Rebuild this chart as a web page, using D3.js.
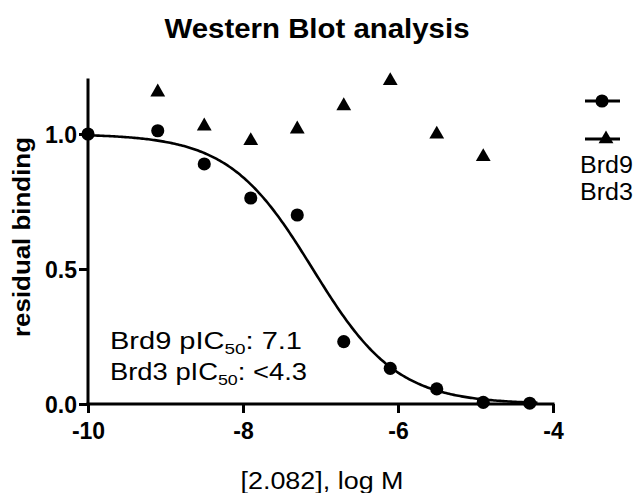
<!DOCTYPE html>
<html>
<head>
<meta charset="utf-8">
<script src="https://cdn.jsdelivr.net/npm/d3@7"></script>
<style>
  html, body { margin: 0; padding: 0; background: #fff; }
  svg { display: block; font-family: "Liberation Sans", Arial, sans-serif; }
</style>
</head>
<body>
<svg id="chart" width="640" height="493"></svg>
<script>
// Concentrations (log M) and residual binding from the blot quantification
const brd9LogConc = [-10, -9.1, -8.5, -7.9, -7.3, -6.7, -6.1, -5.5, -4.9, -4.3];
const brd9Binding = [1.0, 1.012, 0.889, 0.763, 0.70, 0.231, 0.132, 0.056, 0.006, 0.003];
const brd3LogConc = [-9.1, -8.5, -7.9, -7.3, -6.7, -6.1, -5.5, -4.9];
const brd3Binding = [1.155, 1.029, 0.975, 1.018, 1.104, 1.197, 0.999, 0.916];

// Fitted dose-response for Brd9 (pIC50 7.1)
const brd9PIC50 = 7.1;
const fitTop = 1.0, fitBottom = 0.0, fitHill = 0.8;
const fitRange = [-10, -4.2];

const xTicks = [-10, -8, -6, -4];
const yTicks = [0.0, 0.5, 1.0];
const seriesNames = ["Brd9", "Brd3"];

const svg = d3.select("#chart");
const x = d3.scaleLinear().domain([-10, -4]).range([88, 553]);
const y = d3.scaleLinear().domain([0, 1.2]).range([404, 80]);

const axisStroke = 3;

// Title
svg.append("text")
  .attr("x", 317).attr("y", 38)
  .attr("text-anchor", "middle")
  .attr("font-size", 28).attr("font-weight", "bold")
  .attr("textLength", 305).attr("lengthAdjust", "spacingAndGlyphs")
  .text("Western Blot analysis");

// Axes (plain hyphen for negative tick labels)
const xAxis = svg.append("g")
  .attr("transform", `translate(0,${y(0)})`)
  .call(d3.axisBottom(x).tickValues(xTicks).tickSize(9).tickPadding(5)
    .tickFormat(d => String(d)));
const yAxis = svg.append("g")
  .attr("transform", `translate(${x(-10)},0)`)
  .call(d3.axisLeft(y).tickValues(yTicks).tickSize(9).tickPadding(2)
    .tickFormat(d => d.toFixed(1)));

[xAxis, yAxis].forEach(g => {
  g.select(".domain").attr("stroke", "#000").attr("stroke-width", axisStroke)
    .attr("stroke-linecap", "square");
  g.selectAll(".tick line").attr("stroke", "#000").attr("stroke-width", axisStroke);
  g.selectAll(".tick text")
    .attr("fill", "#000")
    .attr("font-size", 23).attr("font-weight", "bold")
    .attr("font-family", "'Liberation Sans', Arial, sans-serif");
});
// flat domain ends (no outer tick stubs)
xAxis.select(".domain").attr("d", `M${x(-10)},0H${x(-4)}`);
yAxis.select(".domain").attr("d", `M0,${y(1.2)}V${y(0)}`);
xAxis.selectAll(".tick text").attr("dy", "0.9em");
yAxis.selectAll(".tick text").attr("dy", "0.36em");

// Axis titles
svg.append("text")
  .attr("transform", `translate(30,237) rotate(-90)`)
  .attr("text-anchor", "middle")
  .attr("font-size", 23).attr("font-weight", "bold")
  .attr("textLength", 200).attr("lengthAdjust", "spacingAndGlyphs")
  .text("residual binding");

svg.append("text")
  .attr("x", 322).attr("y", 489)
  .attr("text-anchor", "middle")
  .attr("font-size", 23)
  .attr("textLength", 163).attr("lengthAdjust", "spacingAndGlyphs")
  .text("[2.082], log M");

// Fit curve
const fit = lx => fitBottom + (fitTop - fitBottom) /
  (1 + Math.pow(10, fitHill * (lx + brd9PIC50)));
const curvePts = d3.range(fitRange[0], fitRange[1] + 1e-9, 0.02).map(lx => [lx, fit(lx)]);
svg.append("path")
  .datum(curvePts)
  .attr("fill", "none").attr("stroke", "#000").attr("stroke-width", 2.6)
  .attr("d", d3.line().x(d => x(d[0])).y(d => y(d[1])));

// Data symbols
const circleSym = d3.symbol().type(d3.symbolCircle).size(135);
const triSym = d3.symbol().type(d3.symbolTriangle).size(95);

svg.append("g").selectAll("path")
  .data(brd3LogConc.map((c, i) => [c, brd3Binding[i]]))
  .join("path")
  .attr("d", triSym)
  .attr("transform", d => `translate(${x(d[0])},${y(d[1])})`)
  .attr("fill", "#000");

svg.append("g").selectAll("path")
  .data(brd9LogConc.map((c, i) => [c, brd9Binding[i]]))
  .join("path")
  .attr("d", circleSym)
  .attr("transform", d => `translate(${x(d[0])},${y(d[1])})`)
  .attr("fill", "#000");

// Legend
const legend = svg.append("g");
const legendRows = [
  { sym: circleSym, cx: 602, cy: 101 },
  { sym: triSym, cx: 606, cy: 139 }
];
legendRows.forEach(r => {
  legend.append("line")
    .attr("x1", 585).attr("x2", 620).attr("y1", r.cy).attr("y2", r.cy)
    .attr("stroke", "#000").attr("stroke-width", 3);
  legend.append("path").attr("d", r.sym)
    .attr("transform", `translate(${r.cx},${r.cy})`).attr("fill", "#000");
});
seriesNames.forEach((name, i) => {
  legend.append("text")
    .attr("x", 580).attr("y", 173 + i * 27)
    .attr("font-size", 23)
    .attr("textLength", 53).attr("lengthAdjust", "spacingAndGlyphs")
    .text(name);
});

// pIC50 annotation
const notes = [
  { name: "Brd9", value: brd9PIC50.toFixed(1), width: 192 },
  { name: "Brd3", value: "<4.3", width: 197 }
];
notes.forEach((n, i) => {
  const t = svg.append("text")
    .attr("x", 110).attr("y", 349 + i * 31)
    .attr("font-size", 23)
    .attr("textLength", n.width).attr("lengthAdjust", "spacingAndGlyphs");
  t.append("tspan").text(`${n.name} pIC`);
  t.append("tspan").attr("font-size", 15).attr("dy", 5).text("50");
  t.append("tspan").attr("dy", -5).text(`: ${n.value}`);
});
</script>
</body>
</html>
